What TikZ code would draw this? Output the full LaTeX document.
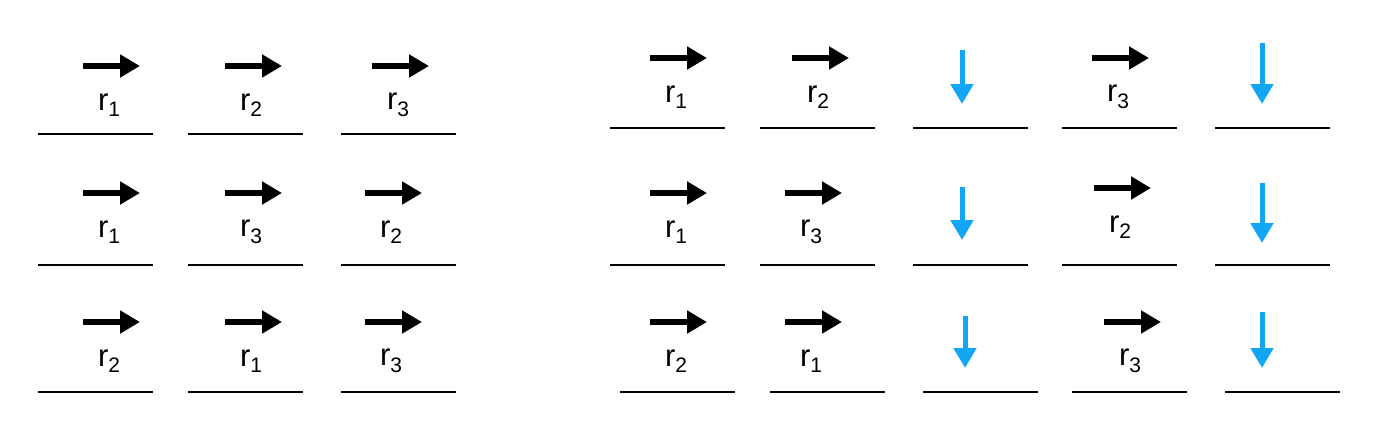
\documentclass[tikz,border=0pt]{standalone}
\usepackage{fontspec}
\setmainfont{Liberation Sans}
\usetikzlibrary{arrows.meta}
\definecolor{sky}{HTML}{12A6F5}
\tikzset{
 base/.style={line width=2pt},
 harr/.style={line width=6pt,-{Triangle[length=20pt,width=22pt]}},
 varr/.style={sky,line width=5pt,-{Triangle[length=20pt,width=22pt]}},
 lbl/.style={font=\fontsize{31}{31}\selectfont,inner sep=0pt}
}
\begin{document}
\begin{tikzpicture}[x=1pt,y=-1pt]
\useasboundingbox (0,0) rectangle (1389,445);
\foreach \x/\y [count=\i] in {38/134,188/134,341/134,38/265,188/265,341/265,38/392,188/392,341/392,
 610/128,760/128,913/128,1062/128,1215/128,610/265,760/265,913/265,1062/265,1215/265,
 620/392,770/392,923/392,1072/392,1225/392}{
 \coordinate (b\i a) at (\x,\y); \coordinate (b\i b) at (\x+115,\y);
 \draw[base] (b\i a) -- (b\i b);}
\foreach \x/\y/\n [count=\i] in {83/66/1,225/66/2,372/66/3,83/193/1,225/193/3,365/193/2,83/322/2,225/322/1,365/322/3,
 650/58/1,792/58/2,1092/58/3,650/193/1,785/193/3,1094/188/2,650/322/2,785/322/1,1104/322/3}{
 \coordinate (h\i a) at (\x,\y); \coordinate (h\i b) at (\x+57,\y);
 \draw[harr] (h\i a) -- (h\i b);
 \node[lbl] (t\i) at (\x+26,\y+39) {r\raisebox{-0.4ex}{\fontsize{21}{21}\selectfont\n}};}
\foreach \x/\ya/\yb [count=\i] in {962/50/104,1262/43/104,962/187/240,1262/183/243,965/316/368,1262/312/368}{
 \coordinate (v\i a) at (\x,\ya); \coordinate (v\i b) at (\x,\yb);
 \draw[varr] (v\i a) -- (v\i b);}
\end{tikzpicture}
\end{document}
